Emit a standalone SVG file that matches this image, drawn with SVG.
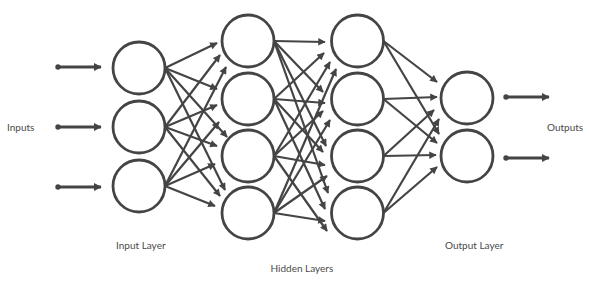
<svg xmlns="http://www.w3.org/2000/svg" width="589" height="283" viewBox="0 0 589 283">
<style>
.node{fill:#fff;stroke:#444;stroke-width:2.8}
.c{stroke:#444;stroke-width:2.2;fill:none;marker-end:url(#ah)}
.io{stroke:#444;stroke-width:3;fill:none;marker-end:url(#ahb)}
.dot{fill:#444}
.lbl{font-family:"Lato","Liberation Sans",sans-serif;font-size:10px;fill:#4a4a4a}
</style>
<defs>
<marker id="ah" viewBox="0 0 10 10" refX="9" refY="5" markerWidth="8.5" markerHeight="7.5" markerUnits="userSpaceOnUse" orient="auto"><path d="M0,0 L10,5 L0,10 z" fill="#444"/></marker>
<marker id="ahb" viewBox="0 0 10 10" refX="9" refY="5" markerWidth="8" markerHeight="8" markerUnits="userSpaceOnUse" orient="auto"><path d="M0,0 L10,5 L0,10 z" fill="#444"/></marker>
</defs>
<rect width="589" height="283" fill="#fff"/>
<g id="connectors">
<line class="io" x1="58" y1="67" x2="101" y2="67"/><circle class="dot" cx="58" cy="67" r="2.7"/>
<line class="io" x1="58" y1="127" x2="101" y2="127"/><circle class="dot" cx="58" cy="127" r="2.7"/>
<line class="io" x1="58" y1="187" x2="101" y2="187"/><circle class="dot" cx="58" cy="187" r="2.7"/>
<line class="io" x1="506" y1="97" x2="549" y2="97"/><circle class="dot" cx="506" cy="97" r="2.7"/>
<line class="io" x1="506" y1="158" x2="549" y2="158"/><circle class="dot" cx="506" cy="158" r="2.7"/>
<line class="c" x1="165" y1="68" x2="217" y2="43"/>
<line class="c" x1="165" y1="127" x2="220" y2="55"/>
<line class="c" x1="165" y1="186" x2="226" y2="67"/>
<line class="c" x1="165" y1="68" x2="217" y2="89"/>
<line class="c" x1="165" y1="127" x2="217" y2="105"/>
<line class="c" x1="165" y1="186" x2="219" y2="122"/>
<line class="c" x1="165" y1="68" x2="227" y2="137"/>
<line class="c" x1="165" y1="127" x2="217" y2="146"/>
<line class="c" x1="165" y1="186" x2="215" y2="164"/>
<line class="c" x1="165" y1="68" x2="225" y2="190"/>
<line class="c" x1="165" y1="127" x2="220" y2="196"/>
<line class="c" x1="165" y1="186" x2="215" y2="206"/>
<line class="c" x1="274" y1="41" x2="325" y2="42"/>
<line class="c" x1="274" y1="99" x2="324" y2="53"/>
<line class="c" x1="274" y1="156" x2="330" y2="62"/>
<line class="c" x1="274" y1="213" x2="336" y2="69"/>
<line class="c" x1="274" y1="41" x2="323" y2="92"/>
<line class="c" x1="274" y1="99" x2="325" y2="103"/>
<line class="c" x1="274" y1="156" x2="323" y2="111"/>
<line class="c" x1="274" y1="213" x2="330" y2="120"/>
<line class="c" x1="274" y1="41" x2="326" y2="146"/>
<line class="c" x1="274" y1="99" x2="323" y2="152"/>
<line class="c" x1="274" y1="156" x2="325" y2="165"/>
<line class="c" x1="274" y1="213" x2="327" y2="176"/>
<line class="c" x1="274" y1="41" x2="328" y2="193"/>
<line class="c" x1="274" y1="99" x2="325" y2="209"/>
<line class="c" x1="274" y1="156" x2="327" y2="231"/>
<line class="c" x1="274" y1="213" x2="325" y2="221"/>
<line class="c" x1="383.5" y1="41" x2="437" y2="82"/>
<line class="c" x1="383.5" y1="99" x2="437" y2="97"/>
<line class="c" x1="383.5" y1="156" x2="434" y2="110"/>
<line class="c" x1="383.5" y1="213" x2="439" y2="119"/>
<line class="c" x1="383.5" y1="41" x2="439" y2="134"/>
<line class="c" x1="383.5" y1="99" x2="437" y2="143"/>
<line class="c" x1="383.5" y1="156" x2="436" y2="155"/>
<line class="c" x1="383.5" y1="213" x2="437" y2="167"/>
</g>
<g id="input-1"><circle class="node" cx="139" cy="68" r="26"/></g>
<g id="input-2"><circle class="node" cx="139" cy="127" r="26"/></g>
<g id="input-3"><circle class="node" cx="139" cy="186" r="26"/></g>
<g id="hidden1-1"><circle class="node" cx="248" cy="41" r="26"/></g>
<g id="hidden1-2"><circle class="node" cx="248" cy="99" r="26"/></g>
<g id="hidden1-3"><circle class="node" cx="248" cy="156" r="26"/></g>
<g id="hidden1-4"><circle class="node" cx="248" cy="213" r="26"/></g>
<g id="hidden2-1"><circle class="node" cx="357.5" cy="41" r="26"/></g>
<g id="hidden2-2"><circle class="node" cx="357.5" cy="99" r="26"/></g>
<g id="hidden2-3"><circle class="node" cx="357.5" cy="156" r="26"/></g>
<g id="hidden2-4"><circle class="node" cx="357.5" cy="213" r="26"/></g>
<g id="output-1"><circle class="node" cx="467" cy="98" r="26"/></g>
<g id="output-2"><circle class="node" cx="467" cy="156" r="26"/></g>
<g id="labels">
<text class="lbl" x="7" y="131">Inputs</text>
<text class="lbl" x="547" y="131">Outputs</text>
<text class="lbl" x="116" y="249">Input Layer</text>
<text class="lbl" x="270.5" y="272">Hidden Layers</text>
<text class="lbl" x="445" y="249">Output Layer</text>
</g>
</svg>
